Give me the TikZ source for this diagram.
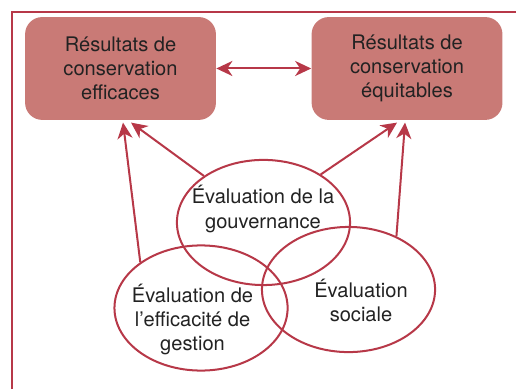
\documentclass[tikz,border=0pt]{standalone}
\usepackage{fontspec}
\setmainfont{TeX Gyre Heros}
\usetikzlibrary{arrows.meta,shapes.geometric}

\definecolor{crimson}{HTML}{B73848}
\definecolor{rosebox}{HTML}{C97A76}
\definecolor{inkgray}{HTML}{222222}

\tikzset{
  >={Stealth[length=8pt,width=7.5pt,inset=2.5pt]},
  result/.style={fill=rosebox,
    rounded corners=0.3cm,
    minimum width=3.34cm,
    minimum height=1.8cm,
    align=center,
    text=inkgray},
  evalset/.style={draw=crimson,
    line width=1pt,
    ellipse,
    minimum width=3.03cm,
    minimum height=2.19cm},
  evaltext/.style={align=center, text=inkgray},
  link/.style={draw=crimson, line width=1pt, ->}
}

\begin{document}
\begin{tikzpicture}[font=\fontsize{10}{12}\selectfont]
\useasboundingbox (0,0) rectangle (9.03,6.8075);

% Frame
\draw [crimson, line width=1pt] (0.21,0) -- (0.21,6.5975) -- (9.03,6.5975);

% Outcomes
\node [result] (lbox) at (2.109,5.609) {Résultats de\\conservation\\efficaces};
\node [result] (rbox) at (7.123,5.609) {Résultats de\\conservation\\équitables};

% Set A
\node [evalset] (gouv) at (4.611,2.914) {};
% Set B
\node [evalset] (eff) at (3.518,1.4175) {};
% Set C
\node [evalset] (soc) at (6.099,1.741) {};

% Set labels
\node [evaltext] (gouvlabel) at (4.6025,3.15) {Évaluation de la\\gouvernance};
\node [evaltext] (efflabel) at (3.369,1.22) {Évaluation de\\l'efficacité de\\gestion};
\node [evaltext] (soclabel) at (6.3175,1.545) {Évaluation\\sociale};

% Links
\draw [link, <->] (lbox) -- (rbox);
\draw [link] (eff.143) -- ([xshift=0.044cm,yshift=-0.04cm]lbox.south);
\draw [link] (gouv.142) -- ([xshift=0.184cm,yshift=-0.04cm]lbox.south);
\draw [link] (gouv.40) -- ([xshift=-0.175cm,yshift=-0.04cm]rbox.south);
\draw [link] (soc.48) -- ([xshift=-0.035cm,yshift=-0.04cm]rbox.south);
%\draw [red,dashed] (lbox.south) -- (rbox.south);

\end{tikzpicture}
\end{document}
